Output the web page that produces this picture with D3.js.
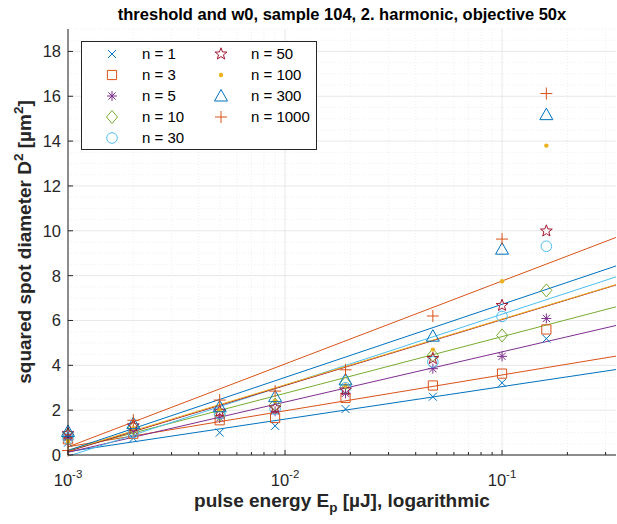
<!DOCTYPE html>
<html>
<head>
<meta charset="utf-8">
<script src="https://cdn.jsdelivr.net/npm/d3@7"></script>
<style>
  body { margin: 0; background: #fff; }
  svg { display: block; font-family: "Liberation Sans", Arial, Helvetica, sans-serif; }
</style>
</head>
<body>
<svg id="chart" width="617" height="524"></svg>
<script>
// pulse energies [uJ]
var energy = [0.001, 0.002, 0.005, 0.009, 0.019, 0.048, 0.1, 0.16];

// squared spot diameters per pulse number
var d2n1    = [0.55, 0.75, 1.00, 1.30, 2.05, 2.60, 3.22, 5.19];
var d2n3    = [0.70, 0.95, 1.55, 1.65, 2.55, 3.10, 3.63, 5.60];
var d2n5    = [0.80, 1.10, 1.65, 1.95, 2.75, 3.85, 4.40, 6.09];
var d2n10   = [0.90, 1.20, 1.80, 2.25, 3.20, 4.45, 5.33, 7.34];
var d2n30   = [0.75, 1.00, 1.85, 2.05, 3.00, 4.15, 6.18, 9.31];
var d2n50   = [0.95, 1.30, 1.95, 2.10, 2.90, 4.30, 6.67, 9.99];
var d2n100  = [0.60, 1.20, 2.00, 2.40, 3.10, 4.70, 7.75, 13.8];
var d2n300  = [1.05, 1.40, 2.15, 2.60, 3.35, 5.30, 9.18, 15.18];
var d2n1000 = [0.20, 1.55, 2.45, 2.85, 3.80, 6.20, 9.63, 16.12];

var pulseNumbers = [1, 3, 5, 10, 30, 50, 100, 300, 1000];
var seriesData = [d2n1, d2n3, d2n5, d2n10, d2n30, d2n50, d2n100, d2n300, d2n1000];
var seriesColors = ["#0072BD", "#D95319", "#7E2F8E", "#77AC30", "#4DBEEE", "#A2142F", "#EDB120", "#0072BD", "#D95319"];
var seriesMarkers = ["x", "square", "asterisk", "diamond", "circle", "star", "dot", "triangle", "plus"];

// linear fits D^2 = offset + slope * log10(E / 1e-3)
var fitOffset = [0.15, 0.37, 0.12, 0.22, -0.06, 0.16, 0.20, 0.20, 0.36];
var fitSlope  = [1.45, 1.60, 2.24, 2.53, 3.17, 2.94, 2.93, 3.26, 3.70];

var yTicks = [0, 2, 4, 6, 8, 10, 12, 14, 16, 18];
var xTicks = [0.001, 0.01, 0.1];
var xTickExp = ["-3", "-2", "-1"];

var titleText = "threshold and w0, sample 104, 2. harmonic, objective 50x";

var plotLeft = 68, plotRight = 616, plotTop = 29, plotBottom = 455;
var axisColor = "#262626";

var svg = d3.select("#chart");

var x = d3.scaleLog().domain([0.001, 0.335]).range([plotLeft, plotRight]);
var y = d3.scaleLinear().domain([0, 19]).range([plotBottom, plotTop]);

svg.append("rect").attr("width", 617).attr("height", 524).attr("fill", "#fff");

// minor grid
var minorX = [];
for (var dec = 0.001; dec < 1; dec *= 10) {
	for (var m = 2; m <= 9; m++) {
		var v = +(dec * m).toPrecision(3);
		if (v < 0.335) minorX.push(v);
	}
}
var minorY = d3.range(0.5, 19.01, 0.5).filter(function(d){ return d % 2 !== 0; });

var grid = svg.append("g");
minorX.forEach(function(d){
	grid.append("line")
		.attr("x1", x(d)).attr("x2", x(d))
		.attr("y1", plotTop).attr("y2", plotBottom)
		.attr("stroke", "#e4e4e4").attr("stroke-width", 0.6)
		.attr("stroke-dasharray", "1,2");
});
minorY.forEach(function(d){
	grid.append("line")
		.attr("x1", plotLeft).attr("x2", plotRight)
		.attr("y1", y(d)).attr("y2", y(d))
		.attr("stroke", "#e4e4e4").attr("stroke-width", 0.6)
		.attr("stroke-dasharray", "1,2");
});
xTicks.forEach(function(d){
	grid.append("line")
		.attr("x1", x(d)).attr("x2", x(d))
		.attr("y1", plotTop).attr("y2", plotBottom)
		.attr("stroke", "#e2e2e2").attr("stroke-width", 0.8);
});
yTicks.forEach(function(d){
	grid.append("line")
		.attr("x1", plotLeft).attr("x2", plotRight)
		.attr("y1", y(d)).attr("y2", y(d))
		.attr("stroke", "#e2e2e2").attr("stroke-width", 0.8);
});

// plot clip
svg.append("clipPath").attr("id", "plotClip")
	.append("rect").attr("x", plotLeft).attr("y", plotTop)
	.attr("width", plotRight - plotLeft).attr("height", plotBottom - plotTop);

// fit lines
var lineLayer = svg.append("g").attr("clip-path", "url(#plotClip)");
var xDom = x.domain();
for (var i = 0; i < pulseNumbers.length; i++) {
	var ends = xDom.map(function(e){
		return [e, fitOffset[i] + fitSlope[i] * Math.log10(e / 0.001)];
	});
	lineLayer.append("path")
		.attr("d", d3.line().x(function(p){ return x(p[0]); }).y(function(p){ return y(p[1]); })(ends))
		.attr("fill", "none")
		.attr("stroke", seriesColors[i])
		.attr("stroke-width", 1);
}

// marker shapes
var markerPath = function(type){
	switch (type) {
		case "x": return "M-4,-4L4,4M-4,4L4,-4";
		case "plus": return "M-6,0L6,0M0,-6L0,6";
		case "square": return "M-4.6,-4.6H4.6V4.6H-4.6Z";
		case "asterisk": return "M-5,0L5,0M0,-5L0,5M-3.6,-3.6L3.6,3.6M-3.6,3.6L3.6,-3.6";
		case "diamond": return "M0,-6.5L5.5,0L0,6.5L-5.5,0Z";
		case "circle": return "M5.3,0A5.3,5.3 0 1,1 -5.3,0A5.3,5.3 0 1,1 5.3,0Z";
		case "triangle": return "M0,-6.5L6.5,5L-6.5,5Z";
		case "star":
			var pts = [];
			for (var k = 0; k < 10; k++) {
				var r = (k % 2 === 0) ? 6.2 : 2.6;
				var a = -Math.PI / 2 + k * Math.PI / 5;
				pts.push([r * Math.cos(a), r * Math.sin(a)]);
			}
			return "M" + pts.map(function(p){ return p[0].toFixed(2) + "," + p[1].toFixed(2); }).join("L") + "Z";
	}
	return "";
};

var drawMarker = function(g, type, color, cx, cy){
	if (type === "dot") {
		g.append("circle").attr("cx", cx).attr("cy", cy).attr("r", 2.2).attr("fill", color);
		return;
	}
	g.append("path")
		.attr("d", markerPath(type))
		.attr("transform", "translate(" + cx + "," + cy + ")")
		.attr("fill", "none")
		.attr("stroke", color)
		.attr("stroke-width", 1);
};

// data points
var pointLayer = svg.append("g");
for (var i = 0; i < seriesData.length; i++) {
	for (var j = 0; j < energy.length; j++) {
		drawMarker(pointLayer, seriesMarkers[i], seriesColors[i], x(energy[j]), y(seriesData[i][j]));
	}
}

// axes
svg.append("line").attr("x1", plotLeft).attr("x2", plotLeft).attr("y1", plotTop).attr("y2", plotBottom)
	.attr("stroke", axisColor).attr("stroke-width", 1);
svg.append("line").attr("x1", plotLeft).attr("x2", plotRight).attr("y1", plotBottom).attr("y2", plotBottom)
	.attr("stroke", axisColor).attr("stroke-width", 1);

yTicks.forEach(function(d){
	svg.append("line").attr("x1", plotLeft).attr("x2", plotLeft + 5)
		.attr("y1", y(d)).attr("y2", y(d)).attr("stroke", axisColor);
	svg.append("text")
		.attr("x", plotLeft - 7).attr("y", y(d) + 6)
		.attr("text-anchor", "end")
		.attr("font-size", 16.5).attr("fill", axisColor)
		.text(d);
});
minorX.forEach(function(d){
	svg.append("line").attr("x1", x(d)).attr("x2", x(d))
		.attr("y1", plotBottom).attr("y2", plotBottom - 3).attr("stroke", axisColor);
});
xTicks.forEach(function(d, i){
	svg.append("line").attr("x1", x(d)).attr("x2", x(d))
		.attr("y1", plotBottom).attr("y2", plotBottom - 5).attr("stroke", axisColor);
	var t = svg.append("text")
		.attr("x", x(d)).attr("y", plotBottom + 31)
		.attr("text-anchor", "middle")
		.attr("font-size", 16.5).attr("fill", axisColor);
	t.append("tspan").text("10");
	t.append("tspan").attr("dy", -8).attr("font-size", 11.5).text(xTickExp[i]);
});

// title and labels
svg.append("text")
	.attr("x", (plotLeft + plotRight) / 2).attr("y", 20)
	.attr("text-anchor", "middle")
	.attr("font-size", 16.5).attr("font-weight", "bold").attr("fill", "#000")
	.text(titleText);

var xl = svg.append("text")
	.attr("x", (plotLeft + plotRight) / 2).attr("y", 507)
	.attr("text-anchor", "middle")
	.attr("font-size", 19).attr("font-weight", "bold").attr("fill", axisColor);
xl.append("tspan").text("pulse energy E");
xl.append("tspan").attr("dy", 5).attr("font-size", 13.5).text("p");
xl.append("tspan").attr("dy", -5).text(" [\u00b5J], logarithmic");

var yl = svg.append("text")
	.attr("transform", "translate(31," + ((plotTop + plotBottom) / 2) + ") rotate(-90)")
	.attr("text-anchor", "middle")
	.attr("font-size", 19).attr("font-weight", "bold").attr("fill", axisColor);
yl.append("tspan").text("squared spot diameter D");
yl.append("tspan").attr("dy", -8).attr("font-size", 13.5).text("2");
yl.append("tspan").attr("dy", 8).text(" [\u00b5m");
yl.append("tspan").attr("dy", -8).attr("font-size", 13.5).text("2");
yl.append("tspan").attr("dy", 8).text("]");

// legend
var legend = svg.append("g");
legend.append("rect")
	.attr("x", 81.5).attr("y", 41.5).attr("width", 235).attr("height", 108)
	.attr("fill", "#fff").attr("stroke", axisColor).attr("stroke-width", 1);
for (var i = 0; i < pulseNumbers.length; i++) {
	var col = i < 5 ? 0 : 1;
	var row = i < 5 ? i : i - 5;
	var mx = col === 0 ? 112 : 221;
	var my = 54 + row * 21;
	drawMarker(legend, seriesMarkers[i], seriesColors[i], mx, my);
	legend.append("text")
		.attr("x", mx + 30).attr("y", my + 5)
		.attr("font-size", 15).attr("fill", "#000")
		.text("n = " + pulseNumbers[i]);
}
</script>
</body>
</html>
